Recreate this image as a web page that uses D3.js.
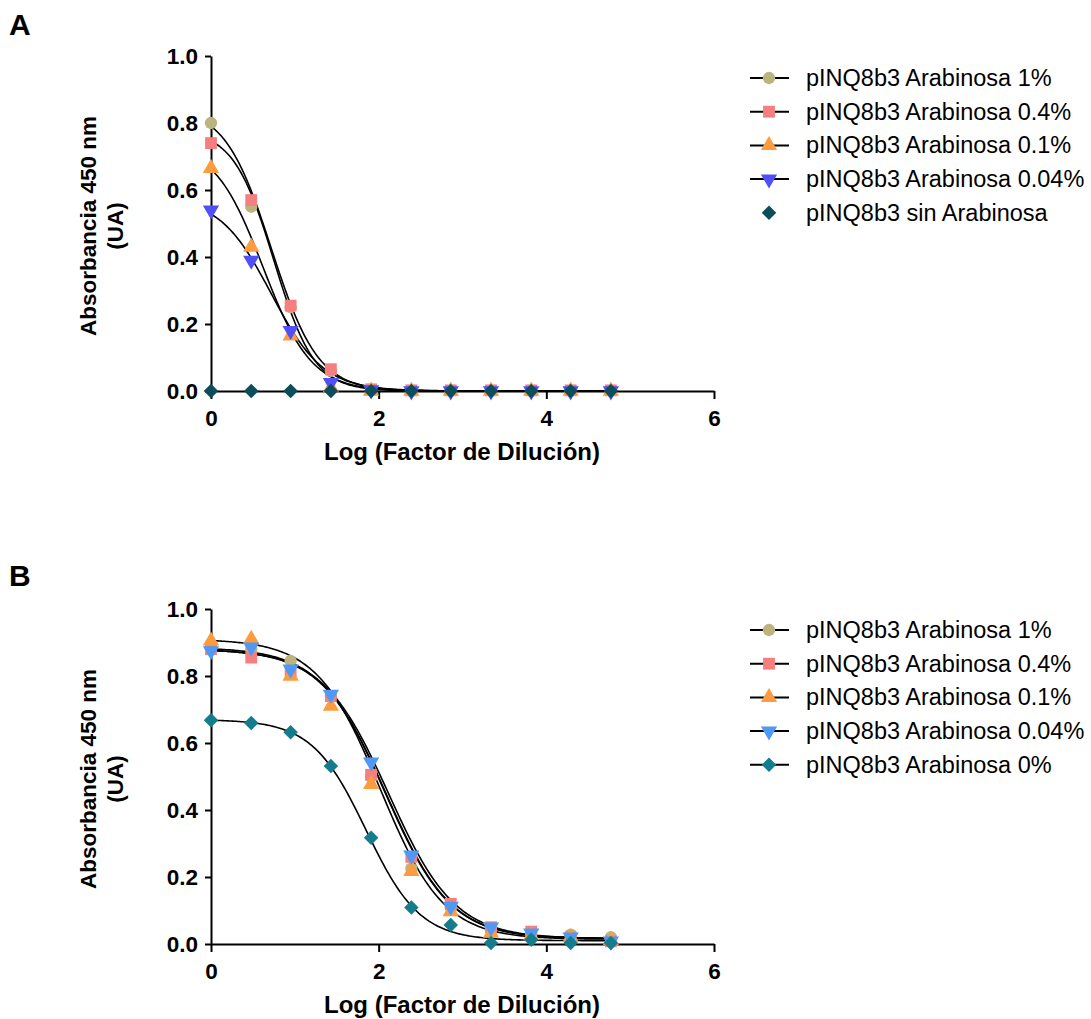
<!DOCTYPE html>
<html>
<head>
<meta charset="utf-8">
<script src="https://cdn.jsdelivr.net/npm/d3@7"></script>
<style>
    body { margin: 0; background: #fff; }
    svg { display: block; font-family: "Liberation Sans", Arial, sans-serif; }
</style>
</head>
<body>
<svg id="chart" width="1091" height="1019"></svg>
<script>
// Log of the dilution factor (3-fold serial dilutions)
var dilutionLog = [0, 0.48, 0.95, 1.43, 1.91, 2.39, 2.86, 3.34, 3.82, 4.29, 4.77];

// Tick labels
var xTicks = [0, 2, 4, 6];
var yTicks = [0, 0.2, 0.4, 0.6, 0.8, 1.0];

// Panel A series
var seriesNamesA = ['pINQ8b3 Arabinosa 1%', 'pINQ8b3 Arabinosa 0.4%', 'pINQ8b3 Arabinosa 0.1%',
                    'pINQ8b3 Arabinosa 0.04%', 'pINQ8b3 sin Arabinosa'];
var a1   = [0.80, 0.55, 0.25, 0.06, 0.005, 0, 0, 0, 0, 0, 0];
var a04  = [0.74, 0.57, 0.255, 0.065, 0.005, 0.002, 0.002, 0.002, 0.002, 0.002, 0.002];
var a01  = [0.665, 0.43, 0.165, 0.01, 0, 0, 0, 0, 0, 0, 0];
var a004 = [0.54, 0.39, 0.18, 0.025, 0.003, 0, 0, 0, 0, 0, 0];
var aNone = [0, 0, 0, 0, 0, 0, 0, 0, 0, 0, 0];
// Fitted sigmoid parameters for panel A: [top, bottom, logEC50, hill]
var fitA = [[0.85, 0, 0.72, 1.56], [0.78, 0, 0.75, 1.8], [0.74, 0, 0.62, 1.5], [0.58, 0, 0.72, 1.4], null];

// Panel B series
var seriesNamesB = ['pINQ8b3 Arabinosa 1%', 'pINQ8b3 Arabinosa 0.4%', 'pINQ8b3 Arabinosa 0.1%',
                    'pINQ8b3 Arabinosa 0.04%', 'pINQ8b3 Arabinosa 0%'];
var b1   = [0.885, 0.88, 0.845, 0.74, 0.50, 0.225, 0.11, 0.045, 0.03, 0.028, 0.02];
var b04  = [0.88, 0.855, 0.81, 0.74, 0.505, 0.26, 0.12, 0.05, 0.037, 0.02, 0.008];
var b01  = [0.905, 0.91, 0.80, 0.71, 0.477, 0.217, 0.097, 0.033, 0.025, 0.02, 0.01];
var b004 = [0.875, 0.886, 0.82, 0.745, 0.543, 0.265, 0.112, 0.05, 0.032, 0.02, 0.008];
var b0   = [0.668, 0.66, 0.632, 0.531, 0.317, 0.109, 0.057, 0.003, 0.013, 0.003, 0.003];
var fitB = [[0.885, 0.016, 2.08, 1.12], [0.88, 0.016, 2.09, 1.12], [0.91, 0.014, 2.02, 1.15],
            [0.88, 0.016, 2.12, 1.1], [0.67, 0.01, 1.85, 1.35]];

// Marker styles per series
var shapes = ['circle', 'square', 'up', 'down', 'diamond'];
var colorsA = ['#bdb37e', '#f57f7f', '#fd9c3f', '#5050f5', '#0b4d5a'];
var colorsB = ['#bdb37e', '#f57f7f', '#fd9c3f', '#4f99f5', '#147d8d'];

var svg = d3.select('#chart');

/* Returns the path of a marker centred on 0,0 */
function markerPath(shape) {
    if (shape == 'circle') return d3.symbol(d3.symbolCircle, 120)();
    if (shape == 'square') return d3.symbol(d3.symbolSquare, 140)();
    if (shape == 'diamond') return d3.symbol(d3.symbolSquare, 105)();
    return d3.symbol(d3.symbolTriangle, 115)();
}
function markerRotate(shape) {
    if (shape == 'down') return ' rotate(180)';
    if (shape == 'diamond') return ' rotate(45)';
    return '';
}

/* Draws one panel of the figure */
function drawPanel(p) {
    var g = svg.append('g');

    // Scales shared by the points and the fitted curves
    var x = d3.scaleLinear().domain([0, 6]).range([211, 714]);
    var y = d3.scaleLinear().domain([0, 1]).range([p.bottom, p.bottom - 335]);

    // Panel letter
    g.append('text')
        .attr('x', 9).attr('y', p.letterY)
        .attr('font-size', '30px').attr('font-weight', 'bold')
        .text(p.letter);

    // Fitted curves
    var line = d3.line()
        .x(function(d) { return x(d[0]); })
        .y(function(d) { return y(d[1]); });
    var xs = d3.range(0, 4.775, 0.02);
    p.fits.forEach(function(f) {
        if (!f) return;
        var pts = xs.map(function(v) {
            return [v, f[1] + (f[0] - f[1]) / (1 + Math.pow(10, (v - f[2]) * f[3]))];
        });
        g.append('path')
            .attr('d', line(pts))
            .attr('fill', 'none')
            .attr('stroke', '#000')
            .attr('stroke-width', 1.6);
    });

    // Axes
    var yAxis = g.append('g')
        .attr('transform', 'translate(211,0)')
        .call(d3.axisLeft(y).tickValues(yTicks).tickFormat(d3.format('.1f'))
            .tickSize(6).tickSizeOuter(0).tickPadding(7));
    var xAxis = g.append('g')
        .attr('transform', 'translate(0,' + p.bottom + ')')
        .call(d3.axisBottom(x).tickValues(xTicks).tickFormat(d3.format('d'))
            .tickSize(8).tickSizeOuter(0).tickPadding(11));
    [xAxis, yAxis].forEach(function(ax) {
        ax.select('.domain').attr('stroke-width', 2);
        ax.selectAll('.tick line').attr('stroke-width', 2);
        ax.selectAll('.tick text')
            .attr('font-size', '22.5px').attr('font-weight', 'bold')
            .attr('font-family', '"Liberation Sans", Arial, sans-serif')
            .attr('fill', '#000');
    });

    // Data points, last series on top
    p.series.forEach(function(vals, si) {
        g.append('g').selectAll('path')
            .data(vals)
            .enter()
            .append('path')
            .attr('d', markerPath(shapes[si]))
            .attr('transform', function(d, i) {
                return 'translate(' + x(dilutionLog[i]) + ',' + y(d) + ')' + markerRotate(shapes[si]);
            })
            .attr('fill', p.colors[si]);
    });

    // Axis titles
    g.append('text')
        .attr('x', 462).attr('y', p.bottom + 69)
        .attr('text-anchor', 'middle')
        .attr('font-size', '24px').attr('font-weight', 'bold')
        .text('Log (Factor de Dilución)');
    var yt = g.append('text')
        .attr('transform', 'translate(0,' + (p.bottom - 165) + ') rotate(-90)')
        .attr('text-anchor', 'middle')
        .attr('font-size', '22.5px').attr('font-weight', 'bold');
    yt.append('tspan').attr('x', 0).attr('y', 96).text('Absorbancia 450 nm');
    yt.append('tspan').attr('x', 0).attr('y', 123).text('(UA)');

    // Legend
    var leg = g.append('g').selectAll('g')
        .data(p.names)
        .enter()
        .append('g')
        .attr('transform', function(d, i) { return 'translate(0,' + (p.legendY + i * 33.7) + ')'; });
    leg.filter(function(d, i) { return p.legendLines[i]; })
        .append('line')
        .attr('x1', 750).attr('x2', 789)
        .attr('stroke', '#000').attr('stroke-width', 2);
    leg.append('path')
        .attr('d', function(d, i) { return markerPath(shapes[i]); })
        .attr('transform', function(d, i) { return 'translate(769,0)' + markerRotate(shapes[i]); })
        .attr('fill', function(d, i) { return p.colors[i]; });
    leg.append('text')
        .attr('x', 806).attr('y', 8)
        .attr('font-size', '23.5px')
        .text(function(d) { return d; });
}

drawPanel({
    letter: 'A', letterY: 35, bottom: 391,
    series: [a1, a04, a01, a004, aNone], fits: fitA,
    colors: colorsA, names: seriesNamesA,
    legendY: 78, legendLines: [true, true, true, true, false]
});
drawPanel({
    letter: 'B', letterY: 586, bottom: 944,
    series: [b1, b04, b01, b004, b0], fits: fitB,
    colors: colorsB, names: seriesNamesB,
    legendY: 630, legendLines: [true, true, true, true, true]
});
</script>
</body>
</html>
